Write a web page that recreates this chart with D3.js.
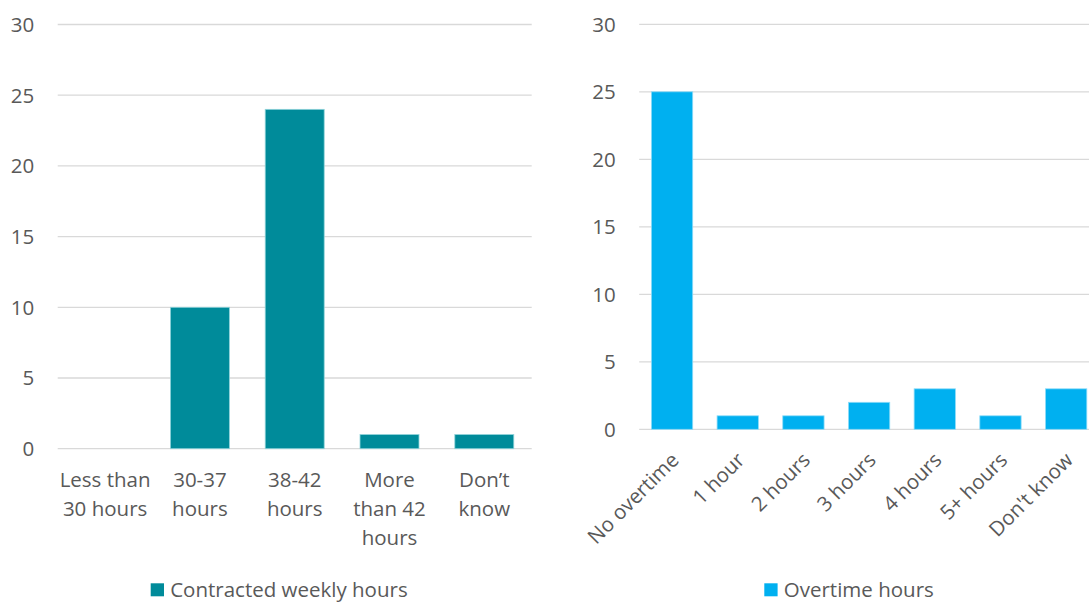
<!DOCTYPE html>
<html><head><meta charset="utf-8">
<script src="https://cdn.jsdelivr.net/npm/d3@7"></script>
<style>
body{margin:0;background:#fff;}
text{font-family:"Open Sans", Lato, sans-serif;fill:#595959;}
</style></head>
<body><svg id="c" width="1089" height="603"></svg>
<script>
const leftCategories = [["Less than","30 hours"],["30-37","hours"],["38-42","hours"],["More","than 42","hours"],["Don\u2019t","know"]];
const leftValues = [0,10,24,1,1];
const leftSeries = "Contracted weekly hours";
const rightCategories = ["No overtime","1 hour","2 hours","3 hours","4 hours","5+ hours","Don't know"];
const rightValues = [25,1,1,2,3,1,3];
const rightSeries = "Overtime hours";
const yTicks = [0,5,10,15,20,25,30];

const svg = d3.select("#c");
const FS = 20.5;

function panel(o){
  const g = svg.append("g");
  const x = d3.scaleBand().domain(d3.range(o.values.length)).range([o.x0,o.x1]).paddingInner(o.pad).paddingOuter(o.pad/2);
  const y = d3.scaleLinear().domain([0,30]).range([o.yb,o.yt]);
  g.selectAll("line.grid").data(yTicks).join("line")
    .attr("x1",o.x0).attr("x2",o.x1).attr("y1",d=>y(d)).attr("y2",d=>y(d))
    .attr("stroke","#d9d9d9").attr("stroke-width",1.3);
  g.selectAll("text.yl").data(yTicks).join("text")
    .attr("x",o.x0-23.5).attr("y",d=>y(d)).attr("dy","0.36em")
    .attr("text-anchor","end").attr("font-size",FS).text(d=>d);
  g.selectAll("rect.bar").data(o.values).join("rect")
    .attr("x",(d,i)=>x(i)).attr("width",x.bandwidth())
    .attr("y",d=>y(d)).attr("height",d=>y(0)-y(d))
    .attr("fill",o.color).attr("stroke",o.edge).attr("stroke-width",d=>d>0?0.8:0);
  return {x,y,g};
}

const L = panel({x0:57.7,x1:531.7,yb:448.7,yt:24.5,pad:0.378,values:leftValues,color:"#008b9a",edge:"#8fd3da"});
leftCategories.forEach((lines,i)=>{
  const cx = L.x(i)+L.x.bandwidth()/2;
  const t = L.g.append("text").attr("text-anchor","middle").attr("font-size",FS);
  lines.forEach((ln,j)=>t.append("tspan").attr("x",cx).attr("y",487.3+j*28.7).text(ln));
});
const R = panel({x0:639.2,x1:1099,yb:429.3,yt:24.3,pad:0.371,values:rightValues,color:"#00b0f0",edge:"#8fdcf8"});
rightCategories.forEach((c,i)=>{
  const cx = R.x(i)+R.x.bandwidth()/2;
  R.g.append("text").attr("text-anchor","end").attr("font-size",FS)
    .attr("transform",`translate(${cx+3},${429.3+27}) rotate(-45)`)
    .attr("dy","0.35em").text(c);
});

function legend(xs, label, color){
  svg.append("rect").attr("x",xs).attr("y",583.3).attr("width",13.3).attr("height",13).attr("fill",color);
  svg.append("text").attr("x",xs+19.5).attr("y",597.3).attr("font-size",FS).text(label);
}
legend(150.7, leftSeries, "#008b9a");
legend(764.3, rightSeries, "#00b0f0");
</script></body></html>
